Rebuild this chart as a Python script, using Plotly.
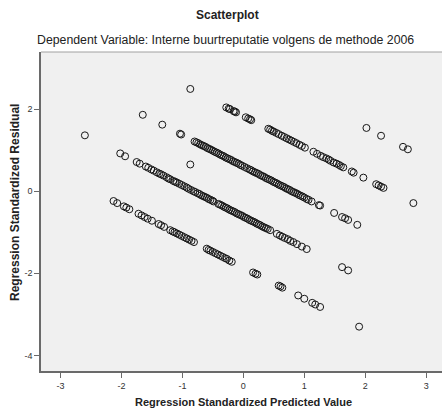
import plotly.graph_objects as go

# Regression standardized predicted value (x) and standardized residual (y)
pred = [
    # top-right group
    2.02, 2.26, 2.62, 2.70,
    # upper band
    -0.87, -0.28, -0.24, -0.22, -0.16, -0.14, -0.12, 0.04, 0.08, 0.11, 0.13,
    0.41, 0.44, 0.47, 0.50, 0.54, 0.58, 0.63, 0.67, 0.71, 0.75, 0.79, 0.83, 0.87, 0.92, 0.96, 1.01,
    1.15, 1.21, 1.27, 1.31, 1.36, 1.40, 1.43, 1.48, 1.53, 1.57, 1.60, 1.64, 1.78, 1.81, 1.97,
    2.18, 2.22, 2.26, 2.30, 2.79,
    # second band
    -1.65, -1.33, -1.04, -1.02,
    -0.80, -0.77, -0.74, -0.71, -0.68, -0.65, -0.62, -0.59, -0.56, -0.53, -0.50, -0.47, -0.44,
    -0.41, -0.38, -0.35, -0.32, -0.29, -0.26, -0.23, -0.20, -0.17, -0.14, -0.11, -0.08, -0.05,
    -0.02, 0.02, 0.06, 0.10, 0.13, 0.16, 0.19, 0.22, 0.25, 0.28, 0.31, 0.34, 0.37, 0.40, 0.43,
    0.46, 0.49, 0.52, 0.55, 0.58, 0.61, 0.64, 0.67, 0.70, 0.73, 0.76, 0.79, 0.82, 0.85, 0.88,
    0.91, 0.94, 0.97, 1.00, 1.04, 1.07, 1.12, 1.24, 1.26, 1.49, 1.62, 1.67, 1.72, 1.87,
    # lone point
    -0.87,
    # third band
    -2.60, -2.02, -1.94,
    -1.75, -1.70, -1.60, -1.56, -1.51, -1.47, -1.42, -1.38, -1.35, -1.31, -1.26, -1.23, -1.20,
    -1.15, -1.12, -1.09, -1.05, -1.01, -0.97, -0.93, -0.90, -0.86, -0.82, -0.79, -0.75, -0.72,
    -0.69, -0.66, -0.63, -0.60, -0.57, -0.54, -0.51, -0.49,
    -0.41, -0.38, -0.35, -0.32, -0.29, -0.26, -0.23, -0.20, -0.17, -0.14, -0.11, -0.08, -0.05,
    -0.02, 0.01, 0.04, 0.07, 0.10, 0.13, 0.16, 0.19, 0.22, 0.25, 0.28, 0.31, 0.34, 0.37, 0.40, 0.44,
    0.55, 0.60, 0.64, 0.68, 0.73, 0.77, 0.82, 0.88, 0.96, 1.04, 1.62, 1.72,
    # bottom band
    -2.13, -2.07, -1.96, -1.92, -1.87, -1.72, -1.67, -1.62, -1.57, -1.50, -1.39, -1.35, -1.30,
    -1.20, -1.16, -1.13, -1.09, -1.05, -1.01, -0.97, -0.93, -0.89, -0.85, -0.81,
    -0.60, -0.57, -0.54, -0.50, -0.46, -0.42, -0.38, -0.34, -0.30, -0.27, -0.23, -0.19,
    0.16, 0.20, 0.23, 0.58, 0.61, 0.64, 0.90, 1.00, 1.13, 1.18, 1.26, 1.90,
]

resid = [
    # top-right group
    1.54, 1.35, 1.08, 1.02,
    # upper band
    2.49, 2.04, 2.01, 2.00, 1.95, 1.94, 1.92, 1.80, 1.77, 1.75, 1.73,
    1.52, 1.50, 1.47, 1.45, 1.42, 1.39, 1.35, 1.32, 1.29, 1.26, 1.23, 1.20, 1.17, 1.13, 1.10, 1.06,
    0.96, 0.91, 0.86, 0.83, 0.80, 0.77, 0.74, 0.70, 0.67, 0.64, 0.61, 0.58, 0.48, 0.45, 0.33,
    0.17, 0.14, 0.11, 0.08, -0.29,
    # second band
    1.86, 1.62, 1.40, 1.38,
    1.21, 1.19, 1.17, 1.14, 1.12, 1.10, 1.08, 1.05, 1.03, 1.01, 0.985, 0.96, 0.94,
    0.92, 0.89, 0.87, 0.85, 0.82, 0.80, 0.78, 0.76, 0.73, 0.71, 0.69, 0.67, 0.64,
    0.62, 0.59, 0.56, 0.53, 0.51, 0.48, 0.46, 0.44, 0.42, 0.39, 0.37, 0.35, 0.32, 0.30, 0.28,
    0.26, 0.23, 0.21, 0.19, 0.16, 0.14, 0.12, 0.10, 0.07, 0.05, 0.03, 0.00, -0.02, -0.04, -0.06,
    -0.09, -0.11, -0.13, -0.155, -0.19, -0.21, -0.25, -0.34, -0.35, -0.53, -0.63, -0.66, -0.70, -0.82,
    # lone point
    0.65,
    # third band
    1.36, 0.92, 0.85,
    0.71, 0.67, 0.60, 0.57, 0.53, 0.50, 0.46, 0.43, 0.41, 0.38, 0.34, 0.31, 0.29,
    0.25, 0.23, 0.21, 0.18, 0.15, 0.12, 0.09, 0.06, 0.03, 0.00, -0.02, -0.05, -0.07,
    -0.10, -0.12, -0.14, -0.16, -0.19, -0.21, -0.23, -0.25,
    -0.31, -0.33, -0.35, -0.38, -0.40, -0.42, -0.45, -0.47, -0.49, -0.51, -0.54, -0.56, -0.58,
    -0.60, -0.63, -0.65, -0.67, -0.70, -0.72, -0.74, -0.76, -0.79, -0.81, -0.83, -0.86, -0.88, -0.90, -0.92, -0.95,
    -1.04, -1.08, -1.11, -1.14, -1.17, -1.21, -1.24, -1.29, -1.35, -1.41, -1.85, -1.93,
    # bottom band
    -0.24, -0.29, -0.37, -0.40, -0.44, -0.55, -0.59, -0.63, -0.67, -0.72, -0.80, -0.83, -0.87,
    -0.95, -0.98, -1.00, -1.03, -1.06, -1.09, -1.12, -1.15, -1.18, -1.21, -1.24,
    -1.40, -1.43, -1.45, -1.48, -1.51, -1.54, -1.57, -1.60, -1.63, -1.65, -1.69, -1.72,
    -1.98, -2.01, -2.03, -2.30, -2.32, -2.35, -2.54, -2.62, -2.72, -2.76, -2.82, -3.30,
]

assert len(pred) == len(resid), (len(pred), len(resid))

x_ticks = [-3, -2, -1, 0, 1, 2, 3]
y_ticks = [-4, -2, 0, 2]

title_main = "Scatterplot"
title_sub = "Dependent Variable: Interne buurtreputatie volgens de methode 2006"
x_title = "Regression Standardized Predicted Value"
y_title = "Regression Standardized Residual"

FONT = "Liberation Sans, Arial, sans-serif"
AXIS_COL = "#6a6a6a"

# plot area in pixels
L, T, W, H = 41, 52, 401, 319

fig = go.Figure()
fig.add_trace(go.Scatter(
    x=pred, y=resid, mode="markers",
    marker=dict(symbol="circle-open", size=7, color="#161616", line=dict(width=1)),
    hoverinfo="x+y",
))

fig.update_layout(
    width=442, height=409,
    margin=dict(l=L, r=442 - L - W, t=T, b=409 - T - H),
    paper_bgcolor="white",
    plot_bgcolor="#f0f0f0",
    showlegend=False,
    font=dict(family=FONT, size=9, color="#333333"),
    xaxis=dict(
        range=[-3.32, 3.26], tickvals=x_ticks, ticktext=[str(v) for v in x_ticks],
        showgrid=False, zeroline=False, showline=True, linecolor=AXIS_COL, linewidth=1.5,
        ticks="outside", ticklen=5, tickcolor=AXIS_COL, tickwidth=1,
        tickfont=dict(size=9, color="#333333"),
    ),
    yaxis=dict(
        range=[-4.38, 3.39], tickvals=y_ticks, ticktext=[str(v) for v in y_ticks],
        showgrid=False, zeroline=False, showline=True, linecolor=AXIS_COL, linewidth=1.5,
        ticks="outside", ticklen=5, tickcolor=AXIS_COL, tickwidth=1,
        tickfont=dict(size=9, color="#333333"),
    ),
    shapes=[dict(type="line", xref="paper", yref="paper", x0=0, x1=1, y0=1, y1=1,
                 line=dict(color="#a0a0a0", width=1))],
    annotations=[
        dict(text="<b>" + title_main + "</b>", xref="paper", yref="paper",
             x=(227 - L) / W, y=1 + (T - 15.5) / H, showarrow=False,
             font=dict(size=12, color="#222222", family=FONT), xanchor="center", yanchor="middle"),
        dict(text=title_sub, xref="paper", yref="paper",
             x=(225 - L) / W, y=1 + (T - 40) / H, showarrow=False,
             font=dict(size=12.3, color="#222222", family=FONT), xanchor="center", yanchor="middle"),
        dict(text="<b>" + x_title + "</b>", xref="paper", yref="paper",
             x=(243.5 - L) / W, y=-(401.5 - T - H) / H, showarrow=False,
             font=dict(size=11, color="#222222", family=FONT), xanchor="center", yanchor="middle"),
        dict(text="<b>" + y_title + "</b>", xref="paper", yref="paper",
             x=-(L - 15) / W, y=(T + H - 203) / H, showarrow=False, textangle=-90,
             font=dict(size=12, color="#222222", family=FONT), xanchor="center", yanchor="middle"),
    ],
)

fig.write_html("out.html")
